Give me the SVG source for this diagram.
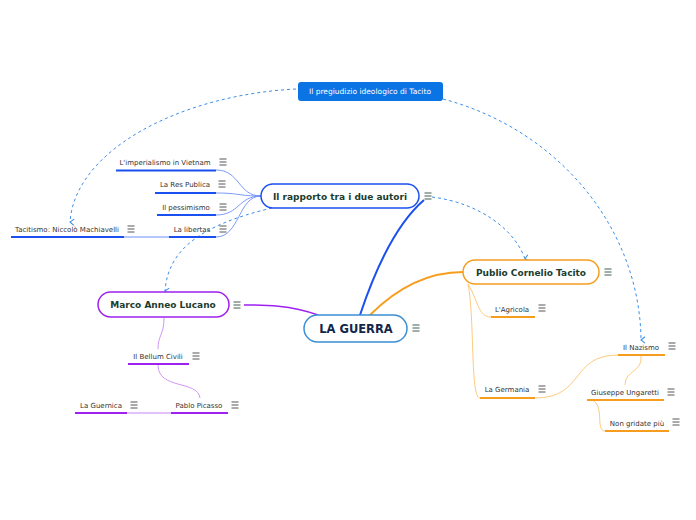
<svg xmlns="http://www.w3.org/2000/svg" width="696" height="520" viewBox="0 0 696 520">
<style>
.leaf{font-family:"DejaVu Sans",Verdana,sans-serif;font-size:7px;fill:#333;text-anchor:middle}
.main{font-family:"DejaVu Sans",Verdana,sans-serif;font-size:9px;font-weight:bold;fill:#1b3d2d;text-anchor:middle}
.dash{fill:none;stroke:#3d8ee8;stroke-width:1;stroke-dasharray:3 3;marker-end:url(#arr)}
.ic{stroke:#444;stroke-width:0.9}
</style>
<defs>
<marker id="arr" viewBox="0 0 10 10" refX="5" refY="8" markerWidth="8" markerHeight="8" orient="auto-start-reverse" markerUnits="userSpaceOnUse">
<polyline points="1,3 5,8 9,3" fill="none" stroke="#3d8ee8" stroke-width="1.3"/>
</marker>
<g id="menu"><path d="M-3.5,-3 H3.5 M-3.5,0 H3.5 M-3.5,3 H3.5"/></g>
</defs>
<rect width="696" height="520" fill="#fff"/>

<g id="connectors" fill="none">
<path d="M360,315 C375,270 395,225 424,200" stroke="#1a4ff0" stroke-width="2"/>
<path d="M370,315 C395,290 425,272 463,272" stroke="#f79d1e" stroke-width="1.8"/>
<path d="M318,315 C290,305 265,305 244,305" stroke="#a020f0" stroke-width="1.5"/>
<g stroke="#6c8ef7" stroke-width="0.9">
<path d="M216,170 C240,170 238,196 261,196"/>
<path d="M216,193 C240,193 238,196 261,196"/>
<path d="M216,215 C240,215 238,196 261,196"/>
<path d="M216,237 C240,237 238,196 261,196"/>
</g>
<path d="M124,237 H169" stroke="#9db6fa" stroke-width="1.5"/>
<g stroke="#fcc46e" stroke-width="0.9">
<path d="M468,284 C478,300 478,317 491,317"/>
<path d="M468,284 C475,320 470,398 480,398"/>
<path d="M535,398 C585,398 570,355 618,355"/>
<path d="M641,356 C643,372 625,370 625,385"/>
<path d="M592,400 C605,405 595,431 605,431"/>
</g>
<g stroke="#c98af5" stroke-width="0.9">
<path d="M164,318 C164,335 158,335 158,349"/>
<path d="M158,365 C158,390 198,380 200,398"/>
</g>
<path d="M127,413 H171" stroke="#d7aef8" stroke-width="1.5"/>
<path class="dash" d="M296,89 C180,95 75,150 70,222"/>
<path class="dash" d="M443,99 C560,130 640,230 641,340"/>
<path class="dash" d="M432,197 C480,203 515,230 525,259"/>
<path class="dash" d="M272,208 C200,225 168,250 165,291"/>
</g>

<g id="n-pregiudizio">
<rect x="298" y="82" width="145" height="19" rx="3" fill="#0a74e4"/>
<text x="370" y="94" class="leaf" style="fill:#fff;font-size:7.5px">Il pregiudizio ideologico di Tacito</text>
</g>
<g id="n-rapporto">
<rect x="261" y="184" width="158" height="24" rx="12" fill="#fff" stroke="#1a4ff0" stroke-width="1.5"/>
<text x="340" y="200" class="main">Il rapporto tra i due autori</text>
<use href="#menu" x="428" y="196" class="ic" style="stroke:#2b4a3a"/>
</g>
<g id="n-guerra">
<rect x="304" y="315" width="103" height="27" rx="13.5" fill="#fff" stroke="#3a8fd4" stroke-width="1.5"/>
<text x="356" y="333" class="main" style="font-size:11.5px;fill:#14264a">LA GUERRA</text>
<use href="#menu" x="416" y="328" class="ic" style="stroke:#2b4a3a"/>
</g>
<g id="n-publio">
<rect x="463" y="260" width="136" height="24" rx="12" fill="#fff" stroke="#f79d1e" stroke-width="1.5"/>
<text x="531" y="276" class="main">Publio Cornelio Tacito</text>
<use href="#menu" x="608" y="272" class="ic" style="stroke:#2b4a3a"/>
</g>
<g id="n-marco">
<rect x="98" y="292" width="131" height="25" rx="12.5" fill="#fff" stroke="#a020f0" stroke-width="1.5"/>
<text x="163" y="308" class="main">Marco Anneo Lucano</text>
<use href="#menu" x="237" y="305" class="ic" style="stroke:#2b4a3a"/>
</g>

<g id="n-vietnam"><text x="165" y="165" class="leaf">L'imperialismo in Vietnam</text><path d="M116,170.5 H216" stroke="#1a4ff0" stroke-width="2"/><use href="#menu" x="223" y="162" class="ic"/></g>
<g id="n-respublica"><text x="185" y="187" class="leaf">La Res Publica</text><path d="M155,193 H216" stroke="#1a4ff0" stroke-width="2"/><use href="#menu" x="222" y="184" class="ic"/></g>
<g id="n-pessimismo"><text x="186" y="210" class="leaf">Il pessimismo</text><path d="M157,215 H216" stroke="#1a4ff0" stroke-width="2"/><use href="#menu" x="223" y="207" class="ic"/></g>
<g id="n-libertas"><text x="192" y="232" class="leaf">La libertas</text><path d="M169,237 H216" stroke="#1a4ff0" stroke-width="2"/><use href="#menu" x="223" y="229" class="ic"/></g>
<g id="n-tacitismo"><text x="67" y="232" class="leaf">Tacitismo: Niccolò Machiavelli</text><path d="M11,237 H124" stroke="#1a4ff0" stroke-width="2"/><use href="#menu" x="131" y="229" class="ic"/></g>
<g id="n-agricola"><text x="512" y="312" class="leaf">L'Agricola</text><path d="M491,317 H535" stroke="#f79d1e" stroke-width="2"/><use href="#menu" x="542" y="308" class="ic"/></g>
<g id="n-germania"><text x="507" y="392" class="leaf">La Germania</text><path d="M480,398 H535" stroke="#f79d1e" stroke-width="2"/><use href="#menu" x="542" y="389" class="ic"/></g>
<g id="n-nazismo"><text x="641" y="350" class="leaf">Il Nazismo</text><path d="M618,355 H665" stroke="#f79d1e" stroke-width="2"/><use href="#menu" x="672" y="346" class="ic"/></g>
<g id="n-ungaretti"><text x="625" y="395" class="leaf">Giuseppe Ungaretti</text><path d="M587,400 H664" stroke="#f79d1e" stroke-width="2"/><use href="#menu" x="671" y="392" class="ic"/></g>
<g id="n-nongridate"><text x="637" y="426" class="leaf">Non gridate più</text><path d="M605,431 H669" stroke="#f79d1e" stroke-width="2"/><use href="#menu" x="676" y="422" class="ic"/></g>
<g id="n-bellum"><text x="158" y="359" class="leaf">Il Bellum Civili</text><path d="M128,364 H189" stroke="#a020f0" stroke-width="2"/><use href="#menu" x="196" y="356" class="ic"/></g>
<g id="n-guernica"><text x="101" y="408" class="leaf">La Guernica</text><path d="M75,413 H127" stroke="#a020f0" stroke-width="2"/><use href="#menu" x="134" y="405" class="ic"/></g>
<g id="n-picasso"><text x="199" y="408" class="leaf">Pablo Picasso</text><path d="M171,413 H228" stroke="#a020f0" stroke-width="2"/><use href="#menu" x="235" y="405" class="ic"/></g>
</svg>
